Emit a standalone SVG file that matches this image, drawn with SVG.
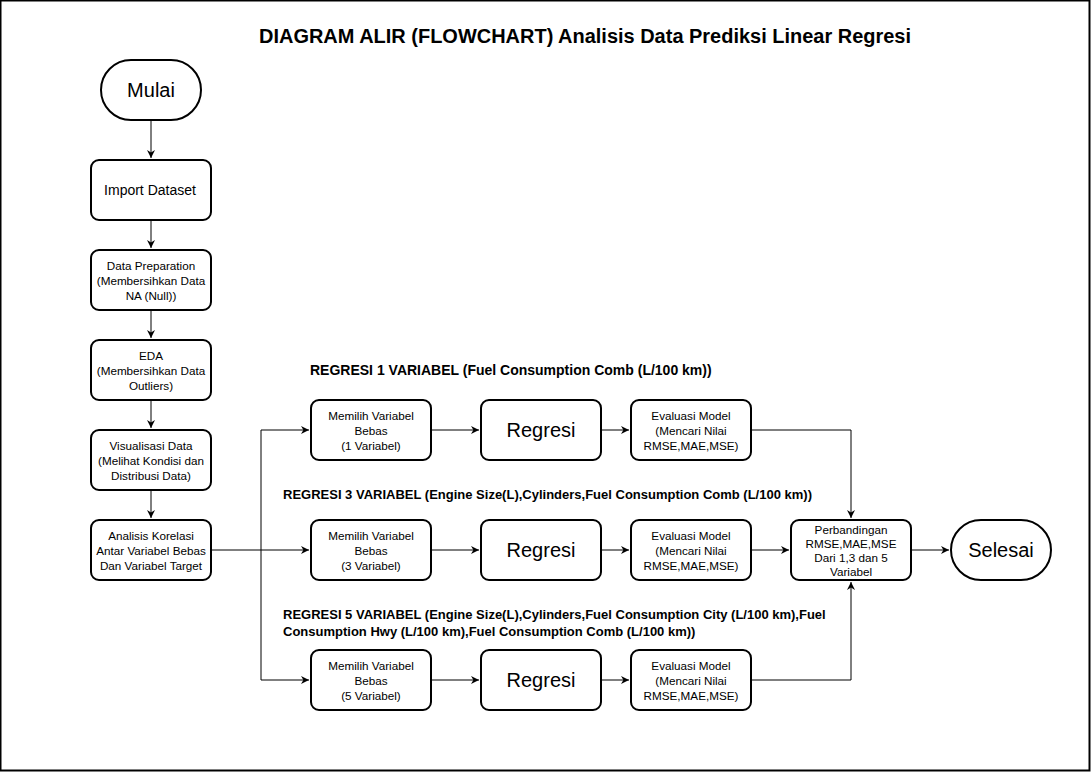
<svg xmlns="http://www.w3.org/2000/svg" width="1091" height="772" viewBox="0 0 1091 772">
<defs>
<style>
.box{fill:#fff;stroke:#000;stroke-width:2}
.t{font-family:"Liberation Sans",Arial,sans-serif;fill:#000;text-anchor:middle}
.s11{font-size:11.7px}
.s14{font-size:14px}
.s20{font-size:20px}
.lbl{font-family:"Liberation Sans",Arial,sans-serif;font-size:13px;font-weight:bold;fill:#000}
.c{fill:none;stroke:#000;stroke-width:1}
</style>
<marker id="ah" viewBox="0 0 10 10" refX="10" refY="5" markerWidth="8" markerHeight="8" markerUnits="userSpaceOnUse" orient="auto">
<path d="M0,0 L10,5 L0,10 L3,5 Z" fill="#000"/>
</marker>
</defs>
<rect x="0.5" y="0.5" width="1089" height="770" fill="#fff" stroke="#000" stroke-width="2"/>
<text x="585" y="43" class="t" style="font-size:20px;font-weight:bold" textLength="652" lengthAdjust="spacingAndGlyphs">DIAGRAM ALIR (FLOWCHART) Analisis Data Prediksi Linear Regresi</text>

<g id="connectors">
<path class="c" d="M151,120 V158" marker-end="url(#ah)"/>
<path class="c" d="M151,220 V248" marker-end="url(#ah)"/>
<path class="c" d="M151,310 V338" marker-end="url(#ah)"/>
<path class="c" d="M151,400 V428" marker-end="url(#ah)"/>
<path class="c" d="M151,490 V518" marker-end="url(#ah)"/>
<path class="c" d="M211,550 H309" marker-end="url(#ah)"/>
<path class="c" d="M261,550 V430 H309" marker-end="url(#ah)"/>
<path class="c" d="M261,550 V680 H309" marker-end="url(#ah)"/>
<path class="c" d="M431,430 H479" marker-end="url(#ah)"/>
<path class="c" d="M431,550 H479" marker-end="url(#ah)"/>
<path class="c" d="M431,680 H479" marker-end="url(#ah)"/>
<path class="c" d="M601,430 H629" marker-end="url(#ah)"/>
<path class="c" d="M601,550 H629" marker-end="url(#ah)"/>
<path class="c" d="M601,680 H629" marker-end="url(#ah)"/>
<path class="c" d="M751,430 H851 V518" marker-end="url(#ah)"/>
<path class="c" d="M751,550 H789" marker-end="url(#ah)"/>
<path class="c" d="M751,680 H851 V582" marker-end="url(#ah)"/>
<path class="c" d="M911,550 H949" marker-end="url(#ah)"/>
</g>

<g id="mulai"><rect class="box" x="101" y="60" width="100" height="60" rx="30"/><text class="t s20" x="151" y="97">Mulai</text></g>
<g id="import"><rect class="box" x="91" y="160" width="120" height="60" rx="8"/><text class="t s14" x="150" y="195">Import Dataset</text></g>
<g id="prep"><rect class="box" x="91" y="250" width="120" height="60" rx="8"/><text class="t s11" x="151" y="270">Data Preparation</text><text class="t s11" x="151" y="285">(Membersihkan Data</text><text class="t s11" x="151" y="300">NA (Null))</text></g>
<g id="eda"><rect class="box" x="91" y="340" width="120" height="60" rx="8"/><text class="t s11" x="151" y="360">EDA</text><text class="t s11" x="151" y="375">(Membersihkan Data</text><text class="t s11" x="151" y="390">Outliers)</text></g>
<g id="visual"><rect class="box" x="91" y="430" width="120" height="60" rx="8"/><text class="t s11" x="151" y="450">Visualisasi Data</text><text class="t s11" x="151" y="465">(Melihat Kondisi dan</text><text class="t s11" x="151" y="480">Distribusi Data)</text></g>
<g id="korelasi"><rect class="box" x="91" y="520" width="120" height="60" rx="8"/><text class="t s11" x="151" y="540">Analisis Korelasi</text><text class="t s11" x="151" y="555">Antar Variabel Bebas</text><text class="t s11" x="151" y="570">Dan Variabel Target</text></g>

<text class="lbl" x="310" y="375" style="font-size:14px">REGRESI 1 VARIABEL (Fuel Consumption Comb (L/100 km))</text>
<text class="lbl" x="283" y="499">REGRESI 3 VARIABEL (Engine Size(L),Cylinders,Fuel Consumption Comb (L/100 km))</text>
<text class="lbl" x="283" y="619">REGRESI 5 VARIABEL (Engine Size(L),Cylinders,Fuel Consumption City (L/100 km),Fuel</text>
<text class="lbl" x="283" y="636">Consumption Hwy (L/100 km),Fuel Consumption Comb (L/100 km))</text>

<g id="pilih1"><rect class="box" x="311" y="400" width="120" height="60" rx="8"/><text class="t s11" x="371" y="420">Memilih Variabel</text><text class="t s11" x="371" y="435">Bebas</text><text class="t s11" x="371" y="450">(1 Variabel)</text></g>
<g id="regresi1"><rect class="box" x="481" y="400" width="120" height="60" rx="8"/><text class="t s20" x="541" y="437">Regresi</text></g>
<g id="eval1"><rect class="box" x="631" y="400" width="120" height="60" rx="8"/><text class="t s11" x="691" y="420">Evaluasi Model</text><text class="t s11" x="691" y="435">(Mencari Nilai</text><text class="t s11" x="691" y="450">RMSE,MAE,MSE)</text></g>

<g id="pilih3"><rect class="box" x="311" y="520" width="120" height="60" rx="8"/><text class="t s11" x="371" y="540">Memilih Variabel</text><text class="t s11" x="371" y="555">Bebas</text><text class="t s11" x="371" y="570">(3 Variabel)</text></g>
<g id="regresi3"><rect class="box" x="481" y="520" width="120" height="60" rx="8"/><text class="t s20" x="541" y="557">Regresi</text></g>
<g id="eval3"><rect class="box" x="631" y="520" width="120" height="60" rx="8"/><text class="t s11" x="691" y="540">Evaluasi Model</text><text class="t s11" x="691" y="555">(Mencari Nilai</text><text class="t s11" x="691" y="570">RMSE,MAE,MSE)</text></g>

<g id="pilih5"><rect class="box" x="311" y="650" width="120" height="60" rx="8"/><text class="t s11" x="371" y="670">Memilih Variabel</text><text class="t s11" x="371" y="685">Bebas</text><text class="t s11" x="371" y="700">(5 Variabel)</text></g>
<g id="regresi5"><rect class="box" x="481" y="650" width="120" height="60" rx="8"/><text class="t s20" x="541" y="687">Regresi</text></g>
<g id="eval5"><rect class="box" x="631" y="650" width="120" height="60" rx="8"/><text class="t s11" x="691" y="670">Evaluasi Model</text><text class="t s11" x="691" y="685">(Mencari Nilai</text><text class="t s11" x="691" y="700">RMSE,MAE,MSE)</text></g>

<g id="perbandingan"><rect class="box" x="791" y="520" width="120" height="60" rx="8"/><text class="t s11" x="851" y="534">Perbandingan</text><text class="t s11" x="851" y="548">RMSE,MAE,MSE</text><text class="t s11" x="851" y="562">Dari 1,3 dan 5</text><text class="t s11" x="851" y="576">Variabel</text></g>
<g id="selesai"><rect class="box" x="951" y="520" width="100" height="60" rx="30"/><text class="t s20" x="1001" y="557">Selesai</text></g>
</svg>
